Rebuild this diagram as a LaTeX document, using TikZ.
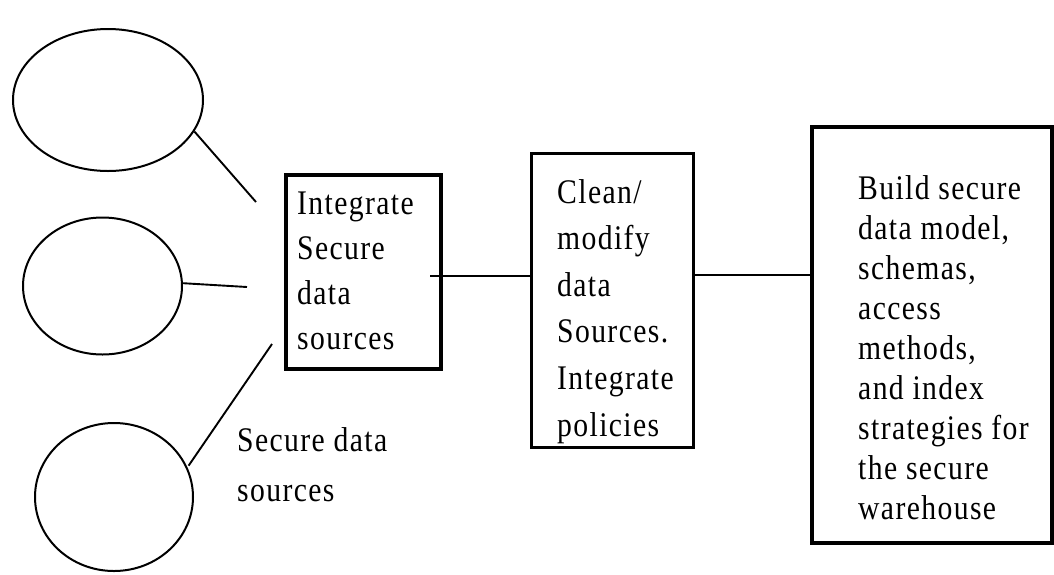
\documentclass[tikz,border=0pt]{standalone}
\usepackage{fontspec}
\setmainfont{Liberation Serif}[FakeStretch=0.86,LetterSpace=4]
\usetikzlibrary{shapes.geometric}
\begin{document}
\begin{tikzpicture}[x=1pt,y=-1pt,
  src/.style={draw,ellipse,line width=2pt,inner sep=0pt},
  stage/.style={draw,rectangle,line width=3.4pt,inner sep=0pt},
  wire/.style={line width=1.9pt},
  txt/.style={anchor=north west,inner sep=0pt,align=left}]
\useasboundingbox (0,0) rectangle (1054,574);

% secure data sources
\node[src,minimum width=190pt,minimum height=142pt] (e1) at (108,100) {};
\node[src,minimum width=159pt,minimum height=137pt] (e2) at (102.5,286) {};
\node[src,minimum width=158pt,minimum height=148pt] (e3) at (114,497) {};

% processing stages
\node[stage,minimum width=155pt,minimum height=194pt] (b1) at (363.5,272) {};
\node[stage,line width=3pt,minimum width=162pt,minimum height=294pt] (b2) at (612,300) {};
\node[stage,minimum width=240pt,minimum height=416pt] (b3) at (932,335) {};

% stage texts
\node[txt,font=\fontsize{34.5}{45}\selectfont] (t1) at (297,192)
  {Integrate\\Secure\\data\\sources};
\node[txt,font=\fontsize{34.5}{46.6}\selectfont] (t2) at (557,179)
  {Clean/\\modify\\data\\Sources.\\Integrate\\policies};
\node[txt,font=\fontsize{34.5}{40}\selectfont] (t3) at (858,175)
  {Build secure\\data model,\\schemas,\\access\\methods,\\and index\\strategies for\\the secure\\warehouse};
\node[txt,font=\fontsize{34.5}{50}\selectfont] (lbl) at (237,427)
  {Secure data\\sources};

% connectors
\coordinate (s1) at (256,202);
\coordinate (s2) at (247,287);
\coordinate (s3) at (272,344);
\draw[wire] (e1.-20) -- (s1);
\draw[wire] (e2.2) -- (s2);
\draw[wire,shorten <=2pt] (e3.22) -- (s3);

\coordinate (j1) at (430,276);
\draw[wire] (j1) -- (j1 -| b2.west);
\coordinate (j2) at (750,275);
\draw[wire] (j2 -| b2.east) -- (j2 -| b3.west);
\end{tikzpicture}
\end{document}
